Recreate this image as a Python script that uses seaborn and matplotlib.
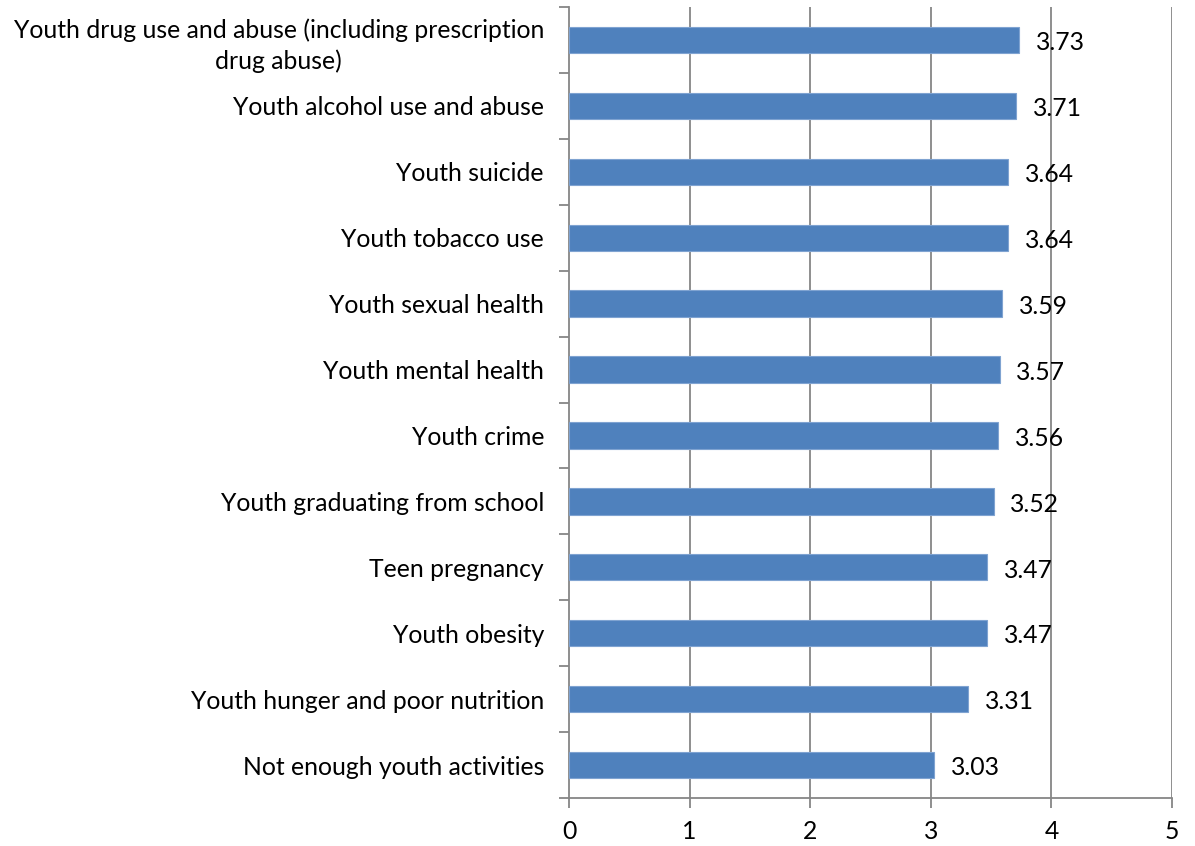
import matplotlib
matplotlib.use("Agg")
import matplotlib.pyplot as plt
import seaborn as sns
import pandas as pd
import numpy as np

categories = [
    "Youth drug use and abuse (including prescription\ndrug abuse)",
    "Youth alcohol use and abuse",
    "Youth suicide",
    "Youth tobacco use",
    "Youth sexual health",
    "Youth mental health",
    "Youth crime",
    "Youth graduating from school",
    "Teen pregnancy",
    "Youth obesity",
    "Youth hunger and poor nutrition",
    "Not enough youth activities",
]
values = [3.73, 3.71, 3.64, 3.64, 3.59, 3.57, 3.56, 3.52, 3.47, 3.47, 3.31, 3.03]
x_ticks = [0, 1, 2, 3, 4, 5]

sns.set_style("white")
plt.rcParams['font.family'] = ['Lato', 'DejaVu Sans']

df = pd.DataFrame({"category": categories, "value": values})

fig = plt.figure(figsize=(11.95, 8.46), dpi=100)
ax = fig.add_axes([569/1195, 48/846, (1172-569)/1195, (798-7)/846])

sns.barplot(data=df, y="category", x="value", orient="h", order=categories,
            color="#4F81BD", width=0.4, edgecolor="#7FA3D1", linewidth=0.8,
            saturation=1, ax=ax, zorder=3)

grid_c = "#868686"
fs = 17.8
ax.set_xlim(0, 5)
ax.set_ylim(len(categories) - 0.5, -0.5)
ax.set_xticks(x_ticks)
ax.set_xticklabels([str(t) for t in x_ticks], fontsize=fs)
for t in x_ticks[1:]:
    ax.axvline(t, color=grid_c, linewidth=1.3, zorder=1)

ax.set_xlabel("")
ax.set_ylabel("")
for s in ["top", "right"]:
    ax.spines[s].set_visible(False)
for s in ["left", "bottom"]:
    ax.spines[s].set_color(grid_c)
    ax.spines[s].set_linewidth(1.3)

ax.tick_params(axis="x", which="major", direction="out", length=7, width=1.3,
               color=grid_c, bottom=True, pad=9, labelcolor="black")
ax.tick_params(axis="y", which="major", length=0, pad=18, labelsize=fs, labelcolor="black")
ax.set_yticks(np.arange(-0.5, len(categories), 1), minor=True)
ax.tick_params(axis="y", which="minor", direction="out", length=7, width=1.3,
               color=grid_c, left=True)
for lbl in ax.get_yticklabels():
    lbl.set_multialignment("center")
    lbl.set_linespacing(1.4)

for i, v in enumerate(values):
    ax.annotate(f"{v:.2f}", xy=(v, i), xytext=(12, -2), textcoords="offset points",
                ha="left", va="center", fontsize=fs, color="black", zorder=4)

fig.savefig("out.png", dpi=100)
